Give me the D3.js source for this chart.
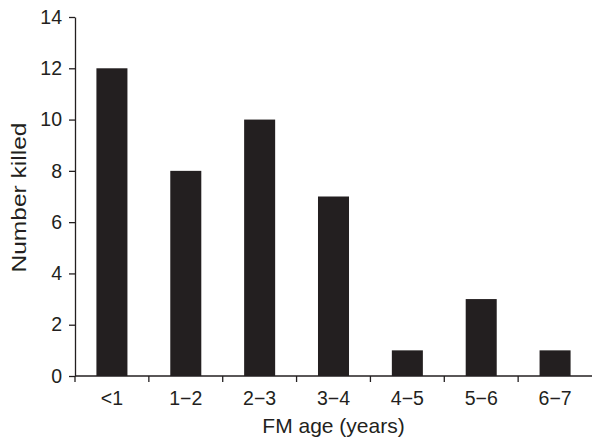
<!DOCTYPE html>
<html><head><meta charset="utf-8">
<script src="https://cdn.jsdelivr.net/npm/d3@7"></script>
<style>body{margin:0;background:#fff}svg{display:block}text{font-family:"Liberation Sans",Arial,Helvetica,sans-serif;fill:#231f20}</style>
</head><body><svg id="c" width="592" height="440"></svg>
<script>
const categories = ["<1","1\u22122","2\u22123","3\u22124","4\u22125","5\u22126","6\u22127"];
const killed = [12, 8, 10, 7, 1, 3, 1];
const yTicks = [0,2,4,6,8,10,12,14];

const svg = d3.select("#c");
const m = {left:75, top:17, right:0, bottom:64};
const x = d3.scaleBand().domain(categories).range([m.left, 592]).paddingInner(0.58).paddingOuter(0.29);
const xb = d3.scaleLinear().domain([0, categories.length]).range([m.left, 592]);
const y = d3.scaleLinear().domain([0,14]).range([376, 17]);
const ink = "#231f20";

svg.selectAll("rect.bar").data(killed).join("rect")
  .attr("class","bar")
  .attr("x",(d,i)=>x(categories[i]))
  .attr("width",x.bandwidth())
  .attr("y",d=>y(d))
  .attr("height",d=>y(0)-y(d))
  .attr("fill",ink);

// y axis
const ya = svg.append("g").attr("transform",`translate(${m.left},0)`)
  .call(d3.axisLeft(y).tickValues(yTicks).tickSize(6).tickPadding(7).tickSizeOuter(0));
ya.select(".domain").attr("stroke",ink).attr("stroke-width",1.3);
ya.selectAll(".tick line").attr("stroke",ink).attr("stroke-width",1.3);
ya.selectAll(".tick text").attr("font-size",19.5).style("fill",ink)
  .style("font-family",'"Liberation Sans",Arial,sans-serif');

// x axis: ticks at band boundaries
const xa = svg.append("g").attr("transform",`translate(0,${y(0)})`);
xa.append("line").attr("x1",m.left).attr("x2",592).attr("stroke",ink).attr("stroke-width",1.3);
xa.selectAll("line.t").data(d3.range(0,categories.length)).join("line").attr("class","t")
  .attr("x1",d=>xb(d)).attr("x2",d=>xb(d)).attr("y1",0).attr("y2",6)
  .attr("stroke",ink).attr("stroke-width",1.3);
xa.selectAll("text").data(categories).join("text")
  .attr("x",d=>x(d)+x.bandwidth()/2).attr("y",29)
  .attr("text-anchor","middle").attr("font-size",19.5).text(d=>d);

svg.append("text").attr("x",(m.left+592)/2).attr("y",433).attr("text-anchor","middle")
  .attr("font-size",21).text("FM age (years)");
svg.append("text").attr("transform",`translate(26,${(17+376)/2 + 1}) rotate(-90)`)
  .attr("text-anchor","middle").attr("font-size",21)
  .attr("textLength",150).attr("lengthAdjust","spacingAndGlyphs").text("Number killed");
</script></body></html>
